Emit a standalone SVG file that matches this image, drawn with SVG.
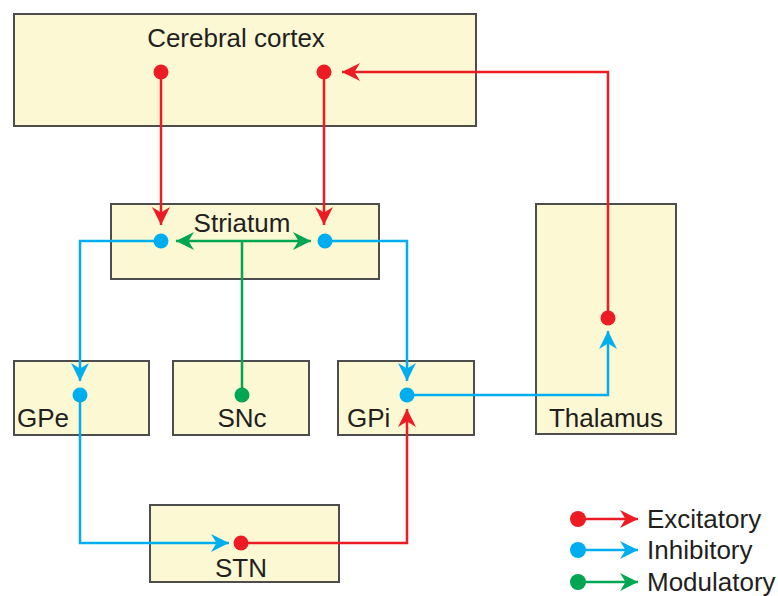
<svg xmlns="http://www.w3.org/2000/svg" width="778" height="596" viewBox="0 0 778 596">
  <style>
    .box { fill: #fdf8d4; stroke: #4d4d4d; stroke-width: 2; }
    .lbl { font-family: "Liberation Sans", Arial, sans-serif; font-size: 26px; fill: #231f20; }
    .ex { stroke: #ed1c24; }
    .in { stroke: #00aeef; }
    .mo { stroke: #00a651; }
    .ln { fill: none; stroke-width: 2.5; }
    .dex { fill: #ed1c24; }
    .din { fill: #00aeef; }
    .dmo { fill: #00a651; }
  </style>
  <defs>
    <marker id="aEx" markerUnits="userSpaceOnUse" viewBox="-20 -10 22 20" refX="0" refY="0" markerWidth="22" markerHeight="20" orient="auto">
      <path d="M0,0 L-18,-9 L-12.5,0 L-18,9 Z" fill="#ed1c24"/>
    </marker>
    <marker id="aIn" markerUnits="userSpaceOnUse" viewBox="-20 -10 22 20" refX="0" refY="0" markerWidth="22" markerHeight="20" orient="auto">
      <path d="M0,0 L-18,-9 L-12.5,0 L-18,9 Z" fill="#00aeef"/>
    </marker>
    <marker id="aMo" markerUnits="userSpaceOnUse" viewBox="-20 -10 22 20" refX="0" refY="0" markerWidth="22" markerHeight="20" orient="auto">
      <path d="M0,0 L-18,-9 L-12.5,0 L-18,9 Z" fill="#00a651"/>
    </marker>
  </defs>

  <rect width="778" height="596" fill="#ffffff"/>

  <!-- nodes -->
  <g id="cortex">
    <rect class="box" x="14" y="14" width="462" height="112"/>
    <text class="lbl" x="236" y="47" text-anchor="middle">Cerebral cortex</text>
  </g>
  <g id="striatum">
    <rect class="box" x="111" y="204" width="268" height="75"/>
    <text class="lbl" x="242" y="232" text-anchor="middle">Striatum</text>
  </g>
  <g id="thalamus">
    <rect class="box" x="536" y="204" width="140" height="230"/>
    <text class="lbl" x="606" y="427" text-anchor="middle">Thalamus</text>
  </g>
  <g id="gpe">
    <rect class="box" x="14" y="361" width="135" height="74"/>
    <text class="lbl" x="17" y="427">GPe</text>
  </g>
  <g id="snc">
    <rect class="box" x="173" y="361" width="136" height="74"/>
    <text class="lbl" x="242" y="427" text-anchor="middle">SNc</text>
  </g>
  <g id="gpi">
    <rect class="box" x="338" y="361" width="136" height="74"/>
    <text class="lbl" x="347" y="427">GPi</text>
  </g>
  <g id="stn">
    <rect class="box" x="150" y="505" width="189" height="77"/>
    <text class="lbl" x="241" y="577" text-anchor="middle">STN</text>
  </g>

  <!-- connectors -->
  <g id="connectors">
    <!-- cortex to striatum -->
    <path class="ln ex" d="M161,72 V225" marker-end="url(#aEx)"/>
    <path class="ln ex" d="M324,72 V225" marker-end="url(#aEx)"/>
    <!-- thalamus to cortex -->
    <path class="ln ex" d="M608,318 V72 H342" marker-end="url(#aEx)"/>
    <!-- striatum to GPe / GPi -->
    <path class="ln in" d="M161,241 H80 V381" marker-end="url(#aIn)"/>
    <path class="ln in" d="M325,241 H407 V381" marker-end="url(#aIn)"/>
    <!-- GPi to thalamus -->
    <path class="ln in" d="M407,395 H608 V331" marker-end="url(#aIn)"/>
    <!-- GPe to STN -->
    <path class="ln in" d="M80,395 V543 H229" marker-end="url(#aIn)"/>
    <!-- STN to GPi -->
    <path class="ln ex" d="M241,543 H407 V409" marker-end="url(#aEx)"/>
    <!-- SNc to striatum -->
    <path class="ln mo" d="M242,395 V241"/>
    <path class="ln mo" d="M242,241 H176" marker-end="url(#aMo)"/>
    <path class="ln mo" d="M242,241 H311" marker-end="url(#aMo)"/>

    <!-- neuron dots -->
    <circle class="dex" cx="161" cy="72" r="7.5"/>
    <circle class="dex" cx="324" cy="72" r="7.5"/>
    <circle class="dex" cx="608" cy="318" r="7.5"/>
    <circle class="din" cx="161" cy="241" r="7.5"/>
    <circle class="din" cx="325" cy="241" r="7.5"/>
    <circle class="din" cx="80" cy="395" r="7.5"/>
    <circle class="din" cx="407" cy="395" r="7.5"/>
    <circle class="dmo" cx="242" cy="395" r="7.5"/>
    <circle class="dex" cx="241" cy="543" r="7.5"/>
  </g>

  <!-- legend -->
  <g id="legend">
    <path class="ln ex" d="M578,519 H638" marker-end="url(#aEx)"/>
    <circle class="dex" cx="578" cy="519" r="8"/>
    <text class="lbl" x="647" y="528">Excitatory</text>
    <path class="ln in" d="M578,550 H638" marker-end="url(#aIn)"/>
    <circle class="din" cx="578" cy="550" r="8"/>
    <text class="lbl" x="647" y="559">Inhibitory</text>
    <path class="ln mo" d="M578,582 H638" marker-end="url(#aMo)"/>
    <circle class="dmo" cx="578" cy="582" r="8"/>
    <text class="lbl" x="647" y="591">Modulatory</text>
  </g>
</svg>
